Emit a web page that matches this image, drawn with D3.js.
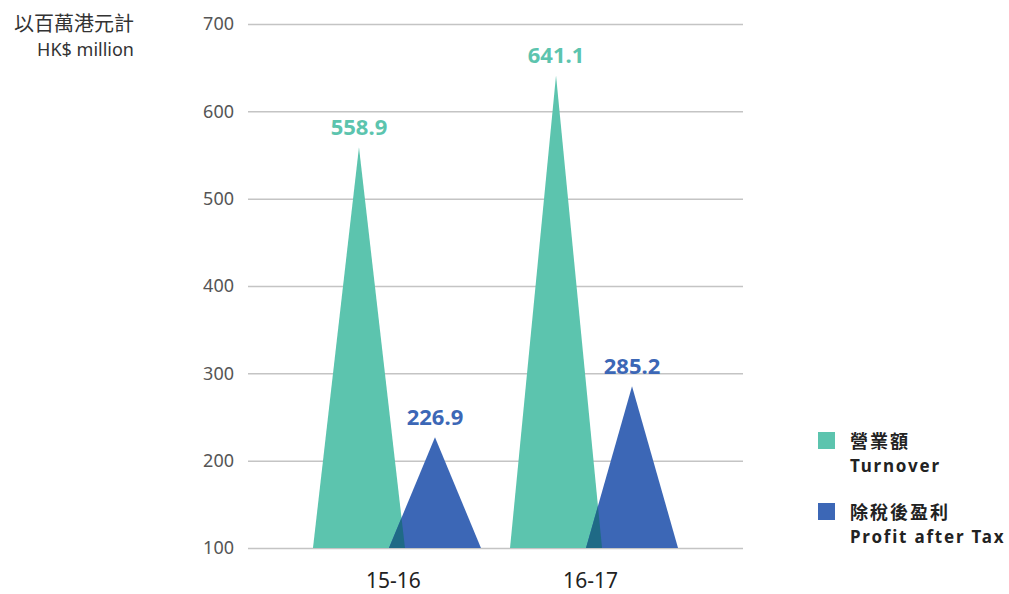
<!DOCTYPE html>
<html>
<head>
<meta charset="utf-8">
<script src="https://cdn.jsdelivr.net/npm/d3@7"></script>
<style>
  body { margin: 0; background: #fff; }
  text { font-family: "Noto Sans", "Noto Sans CJK TC", sans-serif; }
</style>
</head>
<body>
<script>
let years = ["15-16", "16-17"];
let turnover = [558.9, 641.1];
let profit = [226.9, 285.2];
let yTicks = [100, 200, 300, 400, 500, 600, 700];
let seriesNames = ["營業額", "除稅後盈利"];
let seriesNamesEn = ["Turnover", "Profit after Tax"];

let width = 1009, height = 594;
let teal = "#5cc4ae", blue = "#3c67b6", overlap = "#1f6a86";

let svg = d3.select("body").append("svg")
    .attr("width", width).attr("height", height);

let xScale = d3.scalePoint().domain(years).range([248, 743]).padding(0.756);
let yScale = d3.scaleLinear().domain([100, 700]).range([548, 24]);
let offset = 38, half = 46;

// gridlines + tick labels
let yAxis = d3.axisLeft(yScale).tickValues(yTicks).tickSize(-495).tickPadding(14).tickFormat(d => d);
let gy = svg.append("g").attr("transform", "translate(248,0)").call(yAxis);
gy.select(".domain").remove();
gy.selectAll(".tick line").attr("stroke", "#c4c4c4").attr("stroke-width", 1.5);
gy.selectAll(".tick text").attr("fill", "#555").style("font-size", "18px");

function tri(cx, v) {
  return "M" + (cx - half) + "," + yScale(100) + "L" + cx + "," + yScale(v) + "L" + (cx + half) + "," + yScale(100) + "Z";
}

let defs = svg.append("defs");
years.forEach((y, i) => {
  let cx = xScale(y);
  defs.append("clipPath").attr("id", "clip" + i)
    .append("path").attr("d", tri(cx - offset, turnover[i]));
  svg.append("path").attr("d", tri(cx - offset, turnover[i])).attr("fill", teal);
  svg.append("path").attr("d", tri(cx + offset, profit[i])).attr("fill", blue);
  svg.append("path").attr("d", tri(cx + offset, profit[i])).attr("fill", overlap)
    .attr("clip-path", "url(#clip" + i + ")");

  svg.append("text").attr("x", cx - offset).attr("y", yScale(turnover[i]) - 12)
    .attr("text-anchor", "middle").attr("fill", teal)
    .style("font-size", "22px").style("font-weight", "bold").text(turnover[i].toFixed(1));
  svg.append("text").attr("x", cx + offset).attr("y", yScale(profit[i]) - 12)
    .attr("text-anchor", "middle").attr("fill", blue)
    .style("font-size", "22px").style("font-weight", "bold").text(profit[i].toFixed(1));
});

// category labels
let xAxis = d3.axisBottom(xScale).tickSize(0).tickPadding(25);
let gx = svg.append("g").attr("transform", "translate(-4," + yScale(100) + ")").call(xAxis);
gx.select(".domain").remove();
gx.selectAll(".tick text").attr("fill", "#222").style("font-size", "21px");

// y title
svg.append("text").attr("x", 134).attr("y", 31).attr("text-anchor", "end")
  .attr("fill", "#333").style("font-size", "20px").text("以百萬港元計");
svg.append("text").attr("x", 134).attr("y", 56).attr("text-anchor", "end")
  .attr("fill", "#333").style("font-size", "18px").text("HK$ million");

// legend
let colors = [teal, blue];
seriesNames.forEach((n, i) => {
  let y0 = 432 + i * 71;
  svg.append("rect").attr("x", 818).attr("y", y0).attr("width", 17).attr("height", 17).attr("fill", colors[i]);
  svg.append("text").attr("x", 850).attr("y", y0 + 16).attr("fill", "#222")
    .style("font-size", "18px").style("font-weight", "bold").style("letter-spacing", "2px").text(n);
  svg.append("text").attr("x", 850).attr("y", y0 + 40).attr("fill", "#222")
    .style("font-size", "17px").style("font-weight", "bold").style("letter-spacing", "1.8px").text(seriesNamesEn[i]);
});
</script>
</body>
</html>
